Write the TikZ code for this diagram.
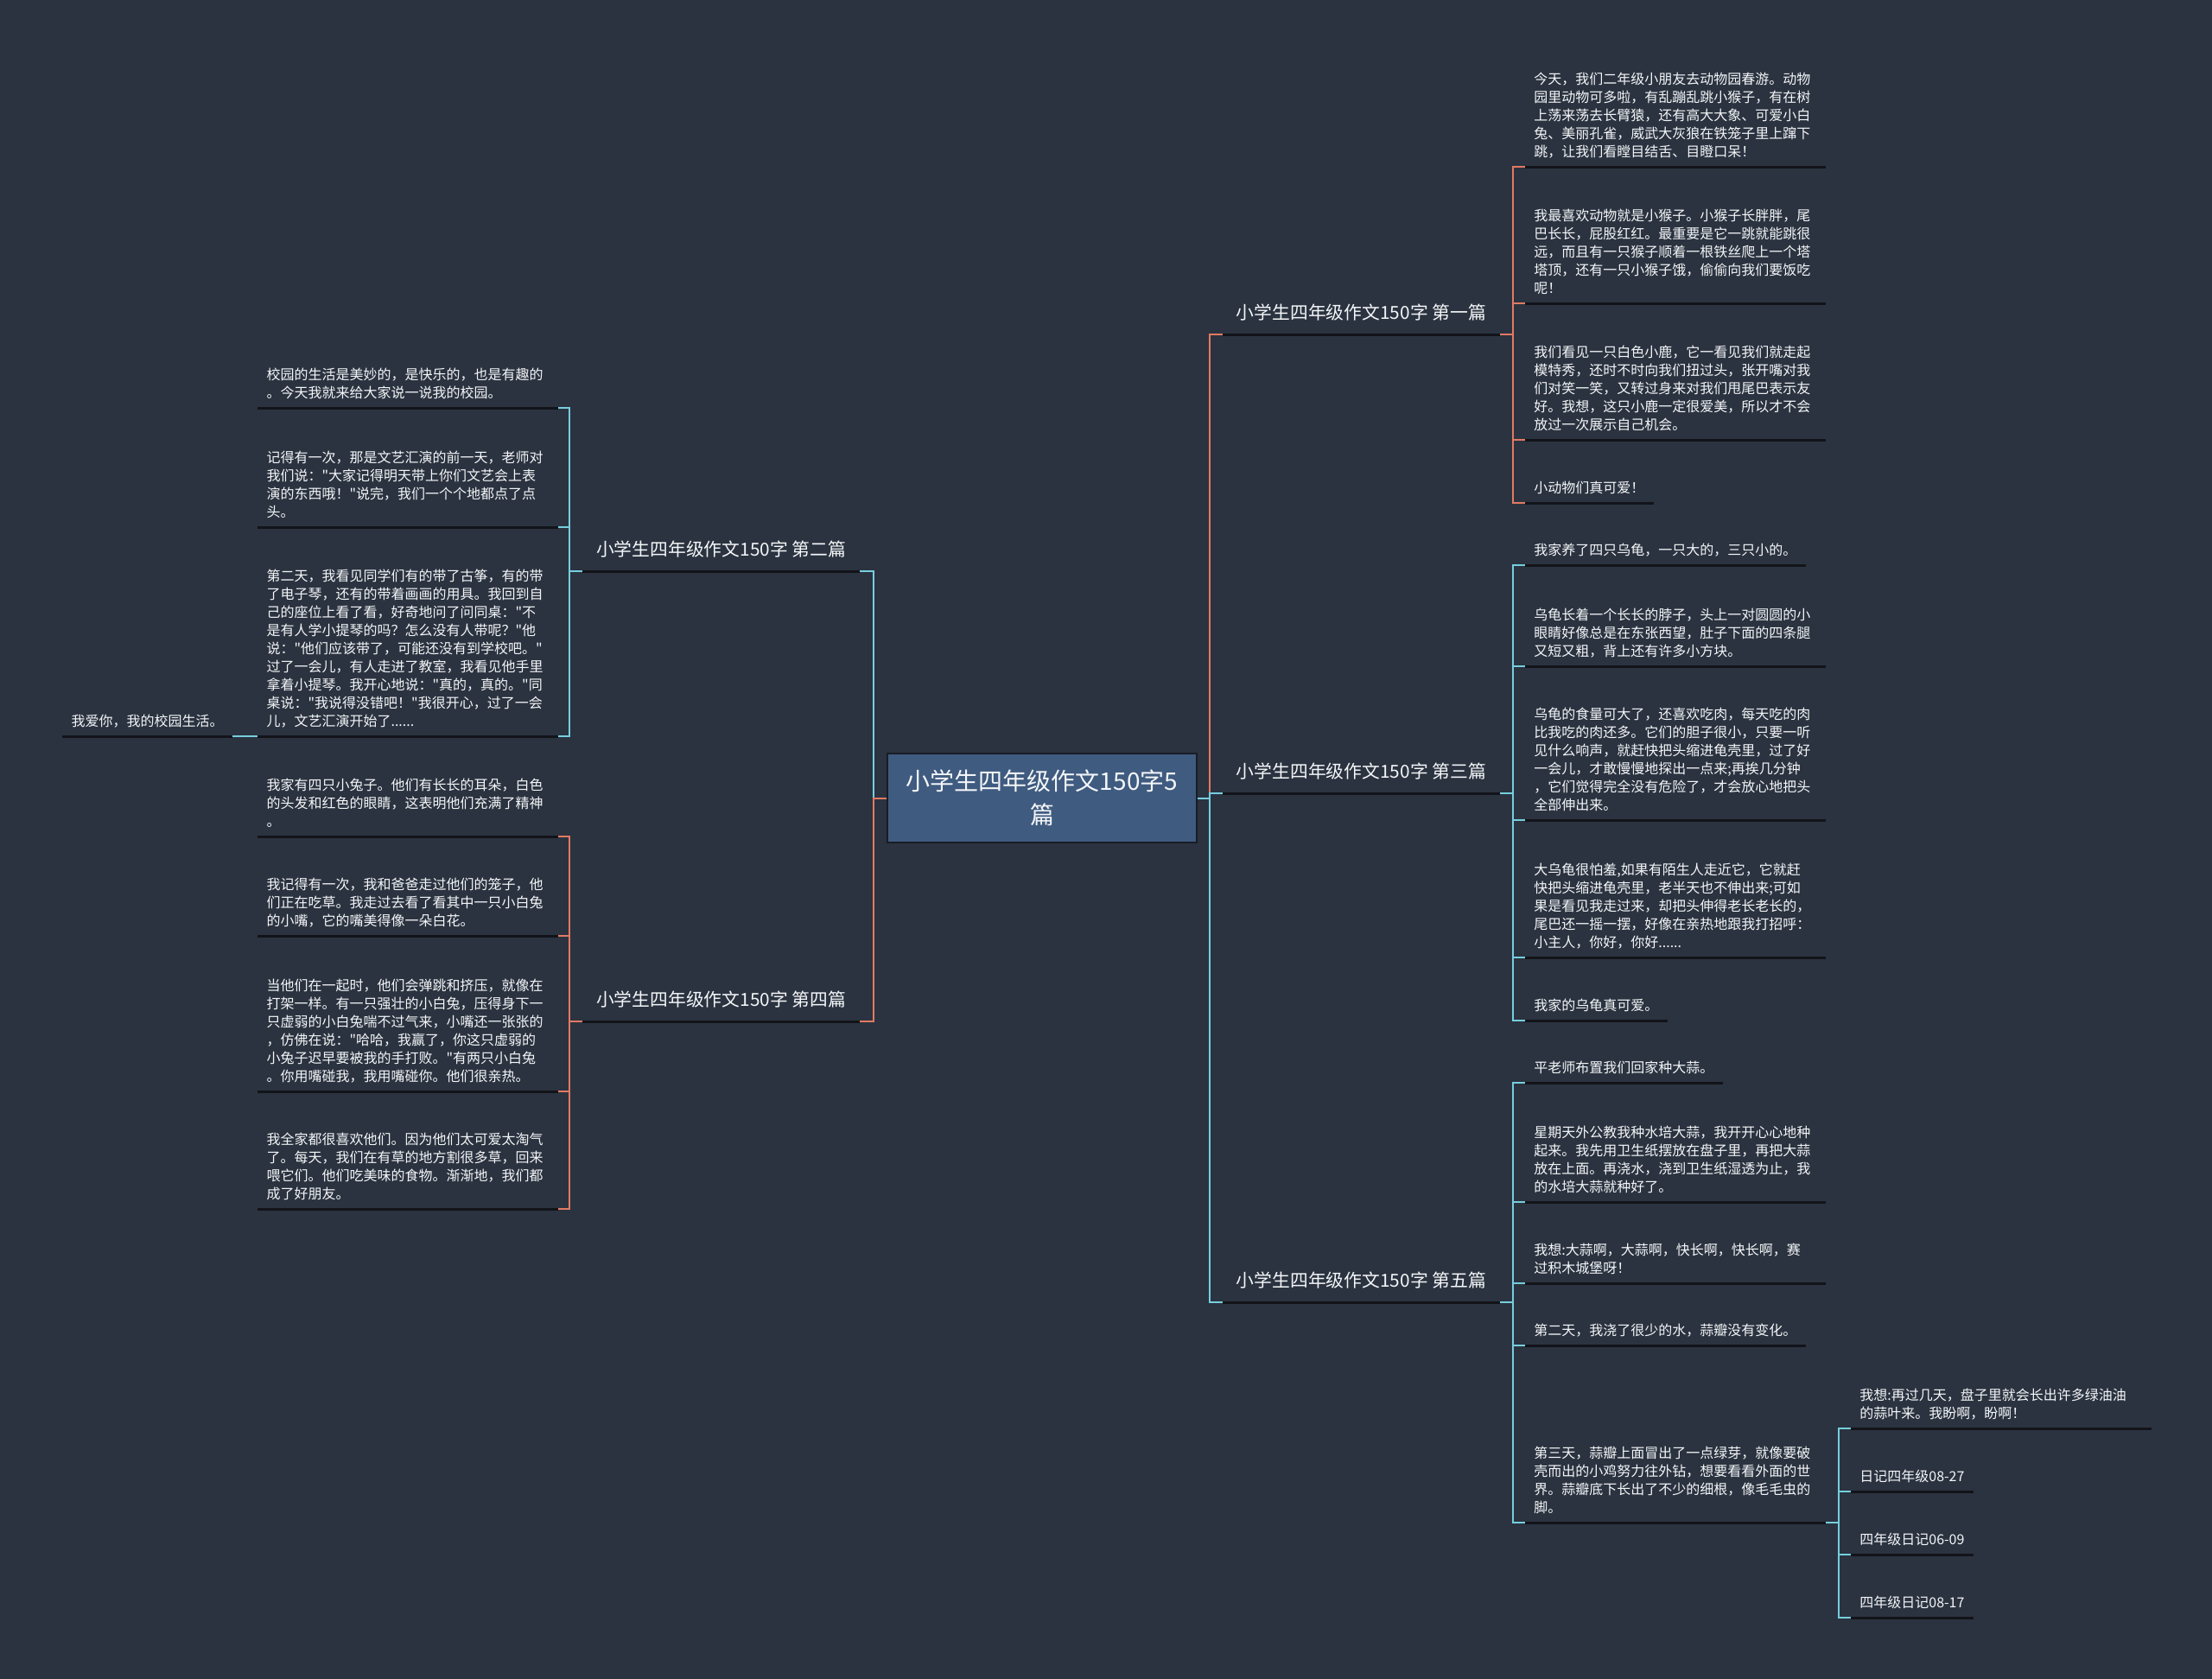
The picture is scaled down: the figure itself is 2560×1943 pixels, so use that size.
\documentclass[tikz,border=0pt]{standalone}
\usepackage{fontspec}
\setmainfont{Noto Sans CJK SC}[Ligatures=TeXOff]
\definecolor{bg}{RGB}{43,51,64}
\definecolor{rootfill}{RGB}{63,91,128}
\definecolor{rootline}{RGB}{24,29,37}
\definecolor{txt}{RGB}{244,246,248}
\definecolor{ul}{RGB}{18,20,25}
\definecolor{coral}{RGB}{226,122,98}
\definecolor{cyanl}{RGB}{118,206,222}
\begin{document}
\begin{tikzpicture}[x=0.5pt,y=-0.5pt,
  leaf/.style={inner xsep=5pt, inner ysep=2.5pt, align=left, text=txt,
    font=\fontsize{8pt}{10.5pt}\selectfont,
    execute at begin node=\strut, execute at end node=\strut},
  wide/.style={leaf, text width=163.5pt},
  branch/.style={inner xsep=6pt, inner ysep=2pt, text depth=6.5pt,
    minimum width=160pt, text=txt, font=\fontsize{10.4pt}{13pt}\selectfont},
  rootbox/.style={fill=rootfill, draw=rootline, line width=0.75pt,
    minimum width=179pt, minimum height=51.5pt, align=center, text=txt,
    font=\fontsize{14pt}{19.5pt}\selectfont},
  uline/.style={draw=ul, line width=1.5pt},
  co/.style={draw=coral, line width=1pt},
  cy/.style={draw=cyanl, line width=1pt}]
\fill[bg] (0,0) rectangle (2560,1943);
\useasboundingbox (0,0) rectangle (2560,1943);

% root
\node[rootbox] (root) at (1206,923.5) {小学生四年级作文150字5\\篇};

% branches
\node[branch, anchor=south west] (b1) at (1415,387) {小学生四年级作文150字 第一篇};
\node[branch, anchor=south west] (b3) at (1415,918) {小学生四年级作文150字 第三篇};
\node[branch, anchor=south west] (b5) at (1415,1507) {小学生四年级作文150字 第五篇};
\node[branch, anchor=south east] (b2) at (995,661) {小学生四年级作文150字 第二篇};
\node[branch, anchor=south east] (b4) at (995,1182) {小学生四年级作文150字 第四篇};

% first
\node[wide, anchor=south west] (l1a) at (1765,193) {今天，我们二年级小朋友去动物园春游。动物\\园里动物可多啦，有乱蹦乱跳小猴子，有在树\\上荡来荡去长臂猿，还有高大大象、可爱小白\\兔、美丽孔雀，威武大灰狼在铁笼子里上蹿下\\跳，让我们看瞠目结舌、目瞪口呆！};
\node[wide, anchor=south west] (l1b) at (1765,351) {我最喜欢动物就是小猴子。小猴子长胖胖，尾\\巴长长，屁股红红。最重要是它一跳就能跳很\\远，而且有一只猴子顺着一根铁丝爬上一个塔\\塔顶，还有一只小猴子饿，偷偷向我们要饭吃\\呢！};
\node[wide, anchor=south west] (l1c) at (1765,509) {我们看见一只白色小鹿，它一看见我们就走起\\模特秀，还时不时向我们扭过头，张开嘴对我\\们对笑一笑，又转过身来对我们甩尾巴表示友\\好。我想，这只小鹿一定很爱美，所以才不会\\放过一次展示自己机会。};
\node[leaf, anchor=south west] (l1d) at (1765,582) {小动物们真可爱！};

% third
\node[leaf, anchor=south west] (l3a) at (1765,654) {我家养了四只乌龟，一只大的，三只小的。};
\node[wide, anchor=south west] (l3b) at (1765,771) {乌龟长着一个长长的脖子，头上一对圆圆的小\\眼睛好像总是在东张西望，肚子下面的四条腿\\又短又粗，背上还有许多小方块。};
\node[wide, anchor=south west] (l3c) at (1765,949) {乌龟的食量可大了，还喜欢吃肉，每天吃的肉\\比我吃的肉还多。它们的胆子很小，只要一听\\见什么响声，就赶快把头缩进龟壳里，过了好\\一会儿，才敢慢慢地探出一点来;再挨几分钟\\，它们觉得完全没有危险了，才会放心地把头\\全部伸出来。};
\node[wide, anchor=south west] (l3d) at (1765,1108) {大乌龟很怕羞,如果有陌生人走近它，它就赶\\快把头缩进龟壳里，老半天也不伸出来;可如\\果是看见我走过来，却把头伸得老长老长的，\\尾巴还一摇一摆，好像在亲热地跟我打招呼：\\小主人，你好，你好......};
\node[leaf, anchor=south west] (l3e) at (1765,1181) {我家的乌龟真可爱。};

% fifth
\node[leaf, anchor=south west] (l5a) at (1765,1253) {平老师布置我们回家种大蒜。};
\node[wide, anchor=south west] (l5b) at (1765,1391) {星期天外公教我种水培大蒜，我开开心心地种\\起来。我先用卫生纸摆放在盘子里，再把大蒜\\放在上面。再浇水，浇到卫生纸湿透为止，我\\的水培大蒜就种好了。};
\node[wide, anchor=south west] (l5c) at (1765,1485) {我想:大蒜啊，大蒜啊，快长啊，快长啊，赛\\过积木城堡呀！};
\node[leaf, anchor=south west] (l5d) at (1765,1557) {第二天，我浇了很少的水，蒜瓣没有变化。};
\node[wide, anchor=south west] (l5e) at (1765,1762) {第三天，蒜瓣上面冒出了一点绿芽，就像要破\\壳而出的小鸡努力往外钻，想要看看外面的世\\界。蒜瓣底下长出了不少的细根，像毛毛虫的\\脚。};
\node[wide, anchor=south west] (s1) at (2142,1653) {我想:再过几天，盘子里就会长出许多绿油油\\的蒜叶来。我盼啊，盼啊！};
\node[leaf, anchor=south west] (s2) at (2142,1726) {日记四年级08-27};
\node[leaf, anchor=south west] (s3) at (2142,1799) {四年级日记06-09};
\node[leaf, anchor=south west] (s4) at (2142,1872) {四年级日记08-17};

% second
\node[wide, anchor=south east] (l2a) at (646,472) {校园的生活是美妙的，是快乐的，也是有趣的\\。今天我就来给大家说一说我的校园。};
\node[wide, anchor=south east] (l2b) at (646,610) {记得有一次，那是文艺汇演的前一天，老师对\\我们说："大家记得明天带上你们文艺会上表\\演的东西哦！"说完，我们一个个地都点了点\\头。};
\node[wide, anchor=south east] (l2c) at (646,852) {第二天，我看见同学们有的带了古筝，有的带\\了电子琴，还有的带着画画的用具。我回到自\\己的座位上看了看，好奇地问了问同桌："不\\是有人学小提琴的吗？怎么没有人带呢？"他\\说："他们应该带了，可能还没有到学校吧。"\\过了一会儿，有人走进了教室，我看见他手里\\拿着小提琴。我开心地说："真的，真的。"同\\桌说："我说得没错吧！"我很开心，过了一会\\儿，文艺汇演开始了......};
\node[leaf, anchor=south east] (l2x) at (269,852) {我爱你，我的校园生活。};

% fourth
\node[wide, anchor=south east] (l4a) at (646,968) {我家有四只小兔子。他们有长长的耳朵，白色\\的头发和红色的眼睛，这表明他们充满了精神\\。};
\node[wide, anchor=south east] (l4b) at (646,1083) {我记得有一次，我和爸爸走过他们的笼子，他\\们正在吃草。我走过去看了看其中一只小白兔\\的小嘴，它的嘴美得像一朵白花。};
\node[wide, anchor=south east] (l4c) at (646,1263) {当他们在一起时，他们会弹跳和挤压，就像在\\打架一样。有一只强壮的小白兔，压得身下一\\只虚弱的小白兔喘不过气来，小嘴还一张张的\\，仿佛在说："哈哈，我赢了，你这只虚弱的\\小兔子迟早要被我的手打败。"有两只小白兔\\。你用嘴碰我，我用嘴碰你。他们很亲热。};
\node[wide, anchor=south east] (l4d) at (646,1399) {我全家都很喜欢他们。因为他们太可爱太淘气\\了。每天，我们在有草的地方割很多草，回来\\喂它们。他们吃美味的食物。渐渐地，我们都\\成了好朋友。};

% connectors root -> branches
\draw[co] (root.east) -- ++(14,0) |- (b1.south west);
\draw[cy] (root.east) -- ++(14,0) |- (b3.south west);
\draw[cy] (root.east) -- ++(14,0) |- (b5.south west);
\draw[cy] (root.west) -- ++(-15,0) |- (b2.south east);
\draw[co] (root.west) -- ++(-15,0) |- (b4.south east);

% branch -> leaves
\foreach \n in {l1a,l1b,l1c,l1d} \draw[co] (b1.south east) -- ++(15,0) |- (\n.south west);
\foreach \n in {l3a,l3b,l3c,l3d,l3e} \draw[cy] (b3.south east) -- ++(15,0) |- (\n.south west);
\foreach \n in {l5a,l5b,l5c,l5d,l5e} \draw[cy] (b5.south east) -- ++(15,0) |- (\n.south west);
\foreach \n in {s1,s2,s3,s4} \draw[cy] (l5e.south east) -- ++(15,0) |- (\n.south west);
\foreach \n in {l2a,l2b,l2c} \draw[cy] (b2.south west) -- ++(-15,0) |- (\n.south east);
\draw[cy] (l2c.south west) -- (l2x.south east);
\foreach \n in {l4a,l4b,l4c,l4d} \draw[co] (b4.south west) -- ++(-15,0) |- (\n.south east);

% underlines
\foreach \n in {b1,b2,b3,b4,b5,l1a,l1b,l1c,l1d,l3a,l3b,l3c,l3d,l3e,l5a,l5b,l5c,l5d,l5e,s1,s2,s3,s4,l2a,l2b,l2c,l2x,l4a,l4b,l4c,l4d}
  \draw[uline] (\n.south west) -- (\n.south east);
\end{tikzpicture}
\end{document}
